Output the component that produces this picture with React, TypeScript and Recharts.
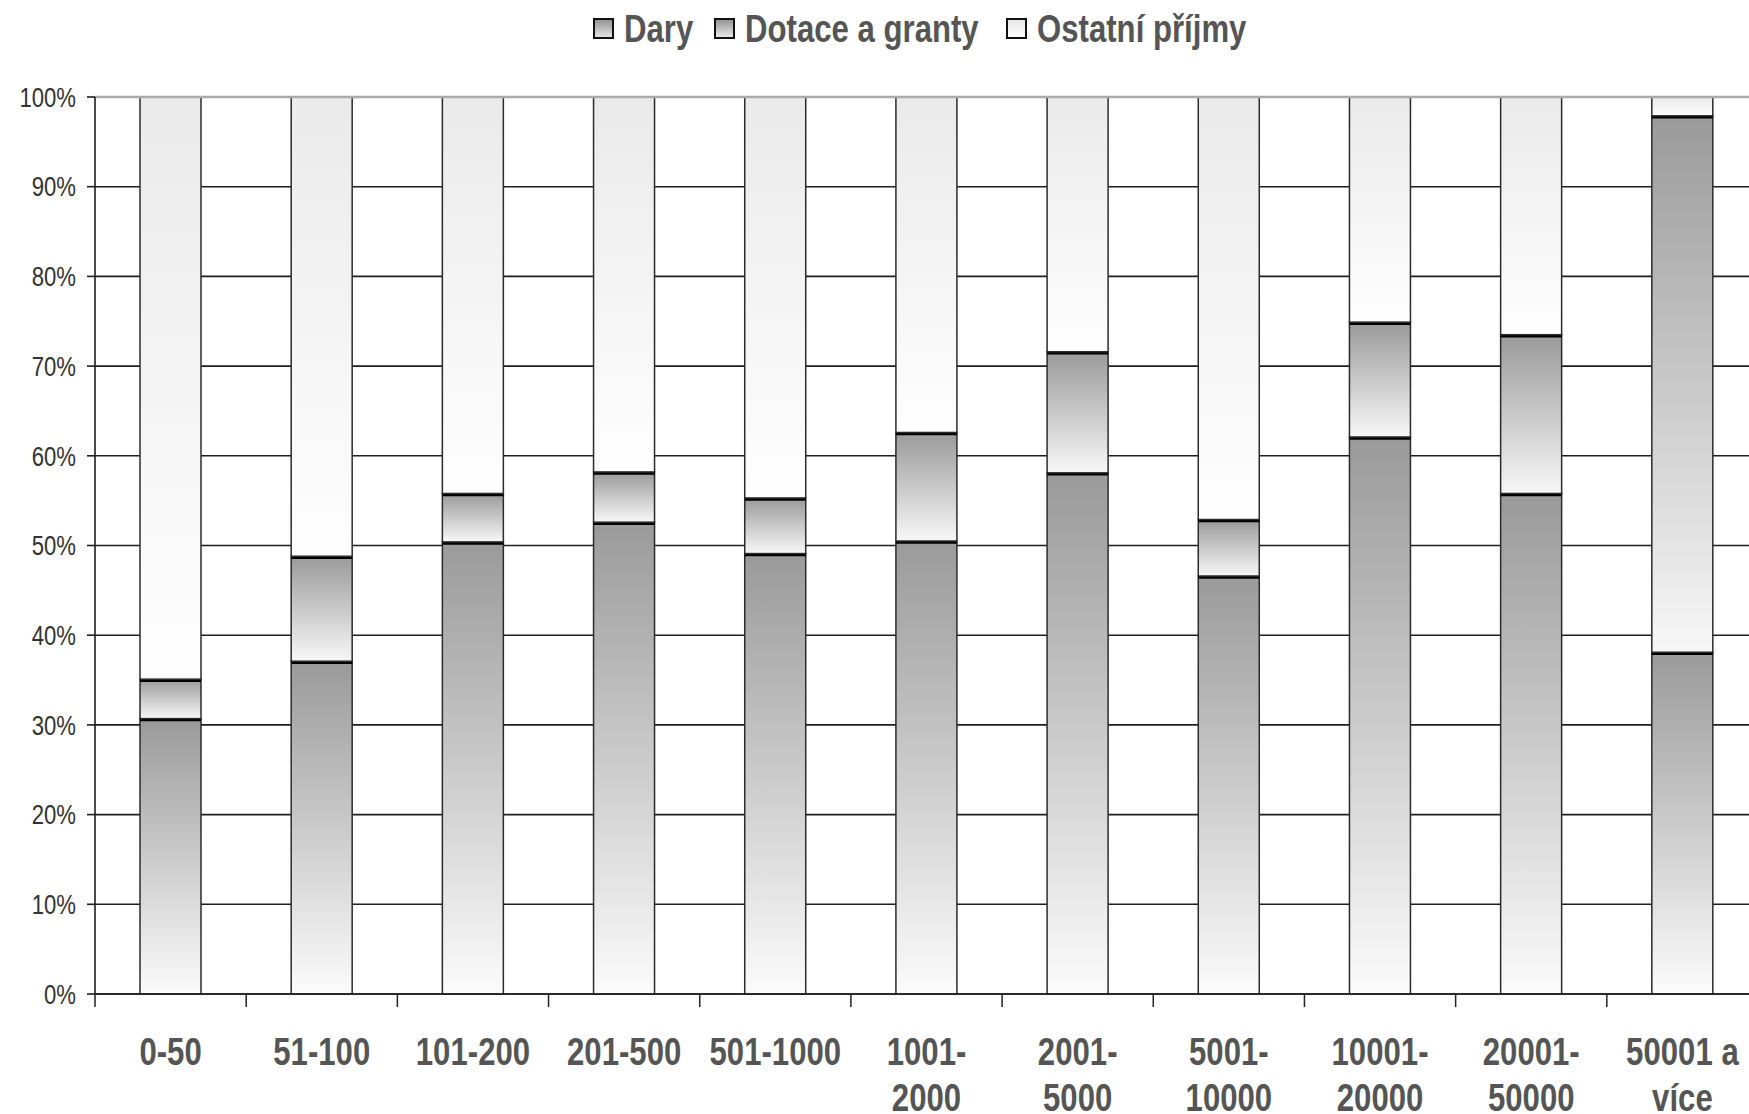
import { BarChart, Bar, XAxis, YAxis, CartesianGrid, Legend, ReferenceLine } from "recharts";

const categories = [
  "0-50",
  "51-100",
  "101-200",
  "201-500",
  "501-1000",
  "1001-2000",
  "2001-5000",
  "5001-10000",
  "10001-20000",
  "20001-50000",
  "50001 a více",
];

const tickLabels = [
  ["0-50"],
  ["51-100"],
  ["101-200"],
  ["201-500"],
  ["501-1000"],
  ["1001-", "2000"],
  ["2001-", "5000"],
  ["5001-", "10000"],
  ["10001-", "20000"],
  ["20001-", "50000"],
  ["50001 a", "více"],
];

const dary = [30.7, 37.1, 50.4, 52.6, 49.1, 50.5, 58.1, 46.6, 62.1, 55.8, 38.1];
const dotace = [4.4, 11.7, 5.4, 5.6, 6.2, 12.1, 13.5, 6.3, 12.8, 17.7, 59.8];
const ostatni = [64.9, 51.2, 44.2, 41.8, 44.7, 37.4, 28.4, 47.1, 25.1, 26.5, 2.1];

const yTicks = [0, 10, 20, 30, 40, 50, 60, 70, 80, 90, 100];

const legendItems = [
  { label: "Dary", grad: "legDary", box: 594, text: 624 },
  { label: "Dotace a granty", grad: "legDotace", box: 715, text: 745 },
  { label: "Ostatní příjmy", grad: "legOstatni", box: 1007, text: 1037 },
];

const data = categories.map((name, i) => ({
  name,
  dary: dary[i],
  dotace: dotace[i],
  ostatni: ostatni[i],
}));

// no Arial Narrow here, so squeeze Liberation Sans horizontally
const font = '"Liberation Sans", Arial, sans-serif';
const squeeze = 0.82;

const segment = (gradId: string, topLine: boolean) => (props: any) => {
  const { x, y, width, height } = props;
  if (!height) return <g />;
  return (
    <g>
      <rect x={x} y={y} width={width} height={height} fill={`url(#${gradId})`} stroke="#2b2b2b" strokeWidth={1.5} />
      {topLine && <line x1={x} x2={x + width} y1={y + 1} y2={y + 1} stroke="#000" strokeWidth={3.5} />}
    </g>
  );
};

const CategoryTick = (props: any) => {
  const { x, y, payload, index } = props;
  const lines = tickLabels[index] || [String(payload.value)];
  const half = payload.offset ?? 0;
  return (
    <g>
      <line x1={x - half} x2={x - half} y1={y} y2={y + 13} stroke="#222" strokeWidth={1.5} />
      <g transform={`translate(${x},${y}) scale(${squeeze},1)`}>
        <text x={0} y={0} textAnchor="middle" fill="#555" fontFamily={font} fontWeight="bold" fontSize={38}>
          {lines.map((l, i) => (
            <tspan key={i} x={0} dy={i === 0 ? 71 : 46}>
              {l}
            </tspan>
          ))}
        </text>
      </g>
    </g>
  );
};

const ValueTick = (props: any) => {
  const { x, y, payload } = props;
  return (
    <g transform={`translate(${x},${y}) scale(${squeeze},1)`}>
      <text x={0} y={0} dy="0.36em" textAnchor="end" fill="#333" fontFamily={font} fontSize={27}>
        {`${payload.value}%`}
      </text>
    </g>
  );
};

const LegendContent = () => (
  <svg width={1749} height={60} style={{ display: "block" }}>
    {legendItems.map((it) => (
      <g key={it.label}>
        <rect x={it.box} y={19} width={19} height={19} fill={`url(#${it.grad})`} stroke="#111" strokeWidth={2} />
        <g transform={`translate(${it.text},42) scale(${squeeze},1)`}>
          <text x={0} y={0} fill="#555" fontFamily={font} fontWeight="bold" fontSize={38}>
            {it.label}
          </text>
        </g>
      </g>
    ))}
  </svg>
);

export default function App() {
  return (
    <div style={{ position: "fixed", left: 0, top: 0, width: 1749, height: 1114, overflow: "hidden", background: "#fff" }}>
      <svg width={0} height={0} style={{ position: "absolute" }}>
        <defs>
          <linearGradient id="legDary" x1="0" y1="0" x2="0" y2="1">
            <stop offset="0%" stopColor="#8f8f8f" />
            <stop offset="100%" stopColor="#e8e8e8" />
          </linearGradient>
          <linearGradient id="legDotace" x1="0" y1="0" x2="0" y2="1">
            <stop offset="0%" stopColor="#8f8f8f" />
            <stop offset="100%" stopColor="#eeeeee" />
          </linearGradient>
          <linearGradient id="legOstatni" x1="0" y1="0" x2="0" y2="1">
            <stop offset="0%" stopColor="#e6e6e6" />
            <stop offset="100%" stopColor="#ffffff" />
          </linearGradient>
        </defs>
      </svg>
      <BarChart width={1770} height={1114} data={data} margin={{ top: 37, right: 12, bottom: 0, left: 0 }} barSize={61}>
        <defs>
          <linearGradient id="gDary" x1="0" y1="0" x2="0" y2="1">
            <stop offset="0%" stopColor="#9a9a9a" />
            <stop offset="100%" stopColor="#fbfbfb" />
          </linearGradient>
          <linearGradient id="gDotace" x1="0" y1="0" x2="0" y2="1">
            <stop offset="0%" stopColor="#9a9a9a" />
            <stop offset="100%" stopColor="#f7f7f7" />
          </linearGradient>
          <linearGradient id="gOstatni" x1="0" y1="0" x2="0" y2="1">
            <stop offset="0%" stopColor="#eaeaea" />
            <stop offset="100%" stopColor="#fefefe" />
          </linearGradient>
        </defs>
        <Legend verticalAlign="top" align="left" content={<LegendContent />} wrapperStyle={{ top: 0, left: 0, height: 60 }} />
        <CartesianGrid vertical={false} stroke="#1e1e1e" strokeWidth={1.6} />
        <ReferenceLine y={100} stroke="#ababab" strokeWidth={2.5} />
        <XAxis
          dataKey="name"
          interval={0}
          height={120}
          tickSize={0}
          tickMargin={0}
          tickLine={false}
          axisLine={{ stroke: "#1e1e1e", strokeWidth: 1.6 }}
          tick={<CategoryTick />}
        />
        <YAxis
          width={95}
          domain={[0, 100]}
          ticks={yTicks}
          interval={0}
          tickSize={8}
          tickMargin={11}
          axisLine={{ stroke: "#1e1e1e", strokeWidth: 1.6 }}
          tickLine={{ stroke: "#1e1e1e", strokeWidth: 1.6 }}
          tick={<ValueTick />}
        />
        <Bar dataKey="dary" stackId="a" isAnimationActive={false} shape={segment("gDary", true)} />
        <Bar dataKey="dotace" stackId="a" isAnimationActive={false} shape={segment("gDotace", true)} />
        <Bar dataKey="ostatni" stackId="a" isAnimationActive={false} shape={segment("gOstatni", false)} />
      </BarChart>
    </div>
  );
}
